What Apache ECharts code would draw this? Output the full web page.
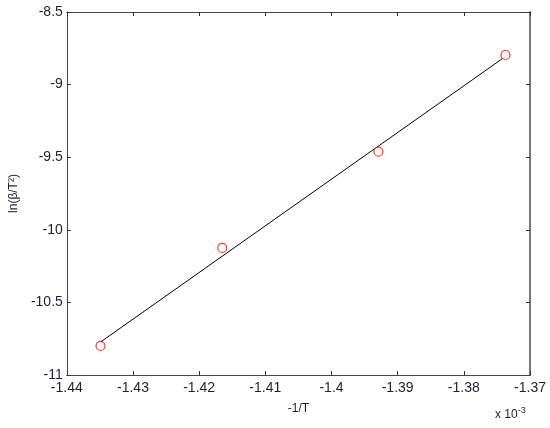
<!DOCTYPE html>
<html>
<head>
<meta charset="utf-8">
<script src="https://cdn.jsdelivr.net/npm/echarts@6/dist/echarts.min.js"></script>
<style>
  html, body { margin: 0; padding: 0; background: #fff; }
  #chart { width: 550px; height: 428px; }
</style>
</head>
<body>
<div id="chart"></div>
<script>
// measured points (-1/T in units of 1e-3, ln(beta/T^2))
const invT = [-1.4349, -1.4165, -1.3929, -1.3737];
const lnBeta = [-10.80, -10.125, -9.462, -8.796];
// fitted line ends
const fitX = [-1.4349, -1.3737];
const fitY = [-10.773, -8.806];

const xTicks = [-1.44, -1.43, -1.42, -1.41, -1.4, -1.39, -1.38, -1.37];
const yTicks = [-11, -10.5, -10, -9.5, -9, -8.5];

const textColor = '#1f1f33';
const font = 'Liberation Sans, Arial, sans-serif';

const chart = echarts.init(document.getElementById('chart'));

const grid = { left: 66, right: 20, top: 12, bottom: 53 };

const boxLine = { show: true, lineStyle: { color: '#444', width: 1 } };
const tickIn = { show: true, inside: true, length: 4, lineStyle: { color: '#333' } };

chart.setOption({
  animation: false,
  grid: grid,
  xAxis: [
    {
      type: 'value',
      min: xTicks[0],
      max: xTicks[xTicks.length - 1],
      interval: 0.01,
      position: 'bottom',
      name: '-1/T',
      nameLocation: 'middle',
      nameGap: 28,
      nameTextStyle: { color: textColor, fontSize: 12, fontFamily: font },
      axisLine: boxLine,
      axisTick: tickIn,
      splitLine: { show: false },
      axisLabel: {
        color: textColor, fontSize: 14, fontFamily: font, margin: 6,
        formatter: v => String(parseFloat(v.toFixed(2))),
        showMinLabel: true, showMaxLabel: true
      }
    },
    {
      type: 'value',
      min: xTicks[0],
      max: xTicks[xTicks.length - 1],
      interval: 0.01,
      position: 'top',
      axisLine: boxLine,
      axisTick: tickIn,
      axisLabel: { show: false },
      splitLine: { show: false }
    }
  ],
  yAxis: [
    {
      type: 'value',
      min: yTicks[0],
      max: yTicks[yTicks.length - 1],
      interval: 0.5,
      position: 'left',
      name: 'ln(β/T²)',
      nameLocation: 'middle',
      nameGap: 44,
      nameRotate: 90,
      nameTextStyle: { color: textColor, fontSize: 12, fontFamily: font },
      axisLine: boxLine,
      axisTick: tickIn,
      splitLine: { show: false },
      axisLabel: {
        color: textColor, fontSize: 14, fontFamily: font, margin: 4,
        formatter: v => String(parseFloat(v.toFixed(2))),
        showMinLabel: true, showMaxLabel: true
      }
    },
    {
      type: 'value',
      min: yTicks[0],
      max: yTicks[yTicks.length - 1],
      interval: 0.5,
      position: 'right',
      axisLine: { show: true, lineStyle: { color: '#777', width: 2 } },
      axisTick: tickIn,
      axisLabel: { show: false },
      splitLine: { show: false }
    }
  ],
  graphic: [
    {
      type: 'text',
      left: 495,
      top: 406,
      style: {
        text: 'x 10{sup|-3}',
        fill: textColor,
        font: '12px ' + font,
        rich: { sup: { fontSize: 9, verticalAlign: 'top', padding: [0, 0, 8, 0], fill: textColor } }
      }
    }
  ],
  series: [
    {
      type: 'line',
      data: fitX.map((x, i) => [x, fitY[i]]),
      symbol: 'none',
      lineStyle: { color: '#000', width: 1 },
      z: 2
    },
    {
      type: 'scatter',
      data: invT.map((x, i) => [x, lnBeta[i]]),
      symbol: 'circle',
      symbolSize: 9,
      itemStyle: { color: '#fff', borderColor: '#ff0000', borderWidth: 1.2 },
      z: 3
    }
  ]
});
</script>
</body>
</html>
